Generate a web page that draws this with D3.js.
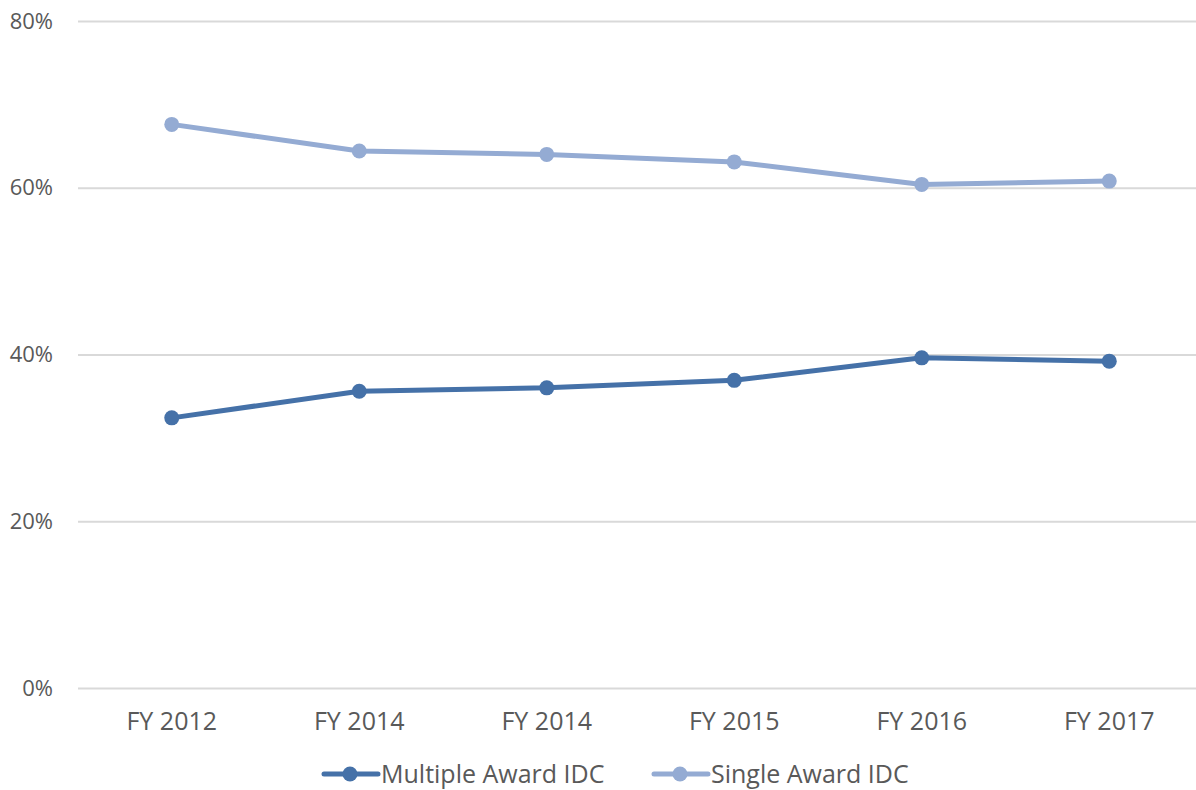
<!DOCTYPE html>
<html>
<head>
<meta charset="utf-8">
<script src="https://cdn.jsdelivr.net/npm/d3@7"></script>
<style>
  body { margin: 0; background: #fff; }
  text { font-family: "Open Sans", sans-serif; fill: #595959; }
</style>
</head>
<body>
<div id="chart"></div>
<script>
(function () {

  const categories = ['FY 2012', 'FY 2014', 'FY 2014', 'FY 2015', 'FY 2016', 'FY 2017']
  const multipleAward = [32.4, 35.6, 36.0, 36.9, 39.6, 39.2]
  const singleAward = [67.6, 64.4, 64.0, 63.1, 60.4, 60.8]
  const yTicks = [0, 20, 40, 60, 80]

  const series = [
    { name: 'Multiple Award IDC', values: multipleAward, color: '#4571a8' },
    { name: 'Single Award IDC', values: singleAward, color: '#94abd3' }
  ]

  const width = 1196
  const height = 790
  const margin = { top: 21, right: 0, bottom: 102, left: 78 }

  const svg = d3.select("#chart").append("svg")
      .attr("width", width)
      .attr("height", height)

  // categories repeat (two FY 2014), so band by index
  const xPositionScale = d3.scaleBand()
    .domain(categories.map((d, i) => i))
    .range([margin.left, margin.left + 6 * 187.5])

  const yPositionScale = d3.scaleLinear()
    .domain([0, 80])
    .range([height - margin.bottom, margin.top])

  const xc = i => xPositionScale(i) + xPositionScale.bandwidth() / 2

  // gridlines + y labels
  const yAxis = d3.axisLeft(yPositionScale)
    .tickValues(yTicks)
    .tickSize(-(width - margin.left))
    .tickPadding(25)
    .tickFormat(d => d + '%')

  svg.append("g")
    .attr("class", "axis y-axis")
    .attr("transform", "translate(" + margin.left + ",0)")
    .call(yAxis)
    .call(g => g.select('.domain').remove())
    .call(g => g.selectAll('line').attr('stroke', '#d9d9d9').attr('stroke-width', 2))
    .call(g => g.selectAll('text').attr('font-size', 22).style('font-family', '"Open Sans", sans-serif').attr('fill', '#595959'))

  // x labels
  const xAxis = d3.axisBottom(xPositionScale)
    .tickSize(0)
    .tickPadding(24)
    .tickFormat(i => categories[i])

  svg.append("g")
    .attr("class", "axis x-axis")
    .attr("transform", "translate(0," + (height - margin.bottom) + ")")
    .call(xAxis)
    .call(g => g.select('.domain').remove())
    .call(g => g.selectAll('text').attr('font-size', 25).style('font-family', '"Open Sans", sans-serif').attr('fill', '#595959'))

  const line = d3.line()
    .x((d, i) => xc(i))
    .y(d => yPositionScale(d))

  series.forEach(s => {
    svg.append('path')
      .datum(s.values)
      .attr('d', line)
      .attr('fill', 'none')
      .attr('stroke', s.color)
      .attr('stroke-width', 5)
      .attr('stroke-linejoin', 'round')
      .attr('stroke-linecap', 'round')

    svg.selectAll(null)
      .data(s.values)
      .join('circle')
      .attr('cx', (d, i) => xc(i))
      .attr('cy', d => yPositionScale(d))
      .attr('r', 7.5)
      .attr('fill', s.color)
  })

  // legend
  const legendX = [322, 652]
  const legend = svg.append('g')
    .attr('transform', 'translate(0,774)')

  const items = legend.selectAll('g')
    .data(series)
    .join('g')
    .attr('transform', (d, i) => 'translate(' + legendX[i] + ',0)')

  items.append('line')
    .attr('x1', 2).attr('x2', 56)
    .attr('stroke', d => d.color)
    .attr('stroke-width', 5)
    .attr('stroke-linecap', 'round')

  items.append('circle')
    .attr('cx', 28)
    .attr('r', 7.5)
    .attr('fill', d => d.color)

  items.append('text')
    .attr('x', 59)
    .attr('dy', '0.35em')
    .attr('font-size', 25)
    .text(d => d.name)

})();
</script>
</body>
</html>
